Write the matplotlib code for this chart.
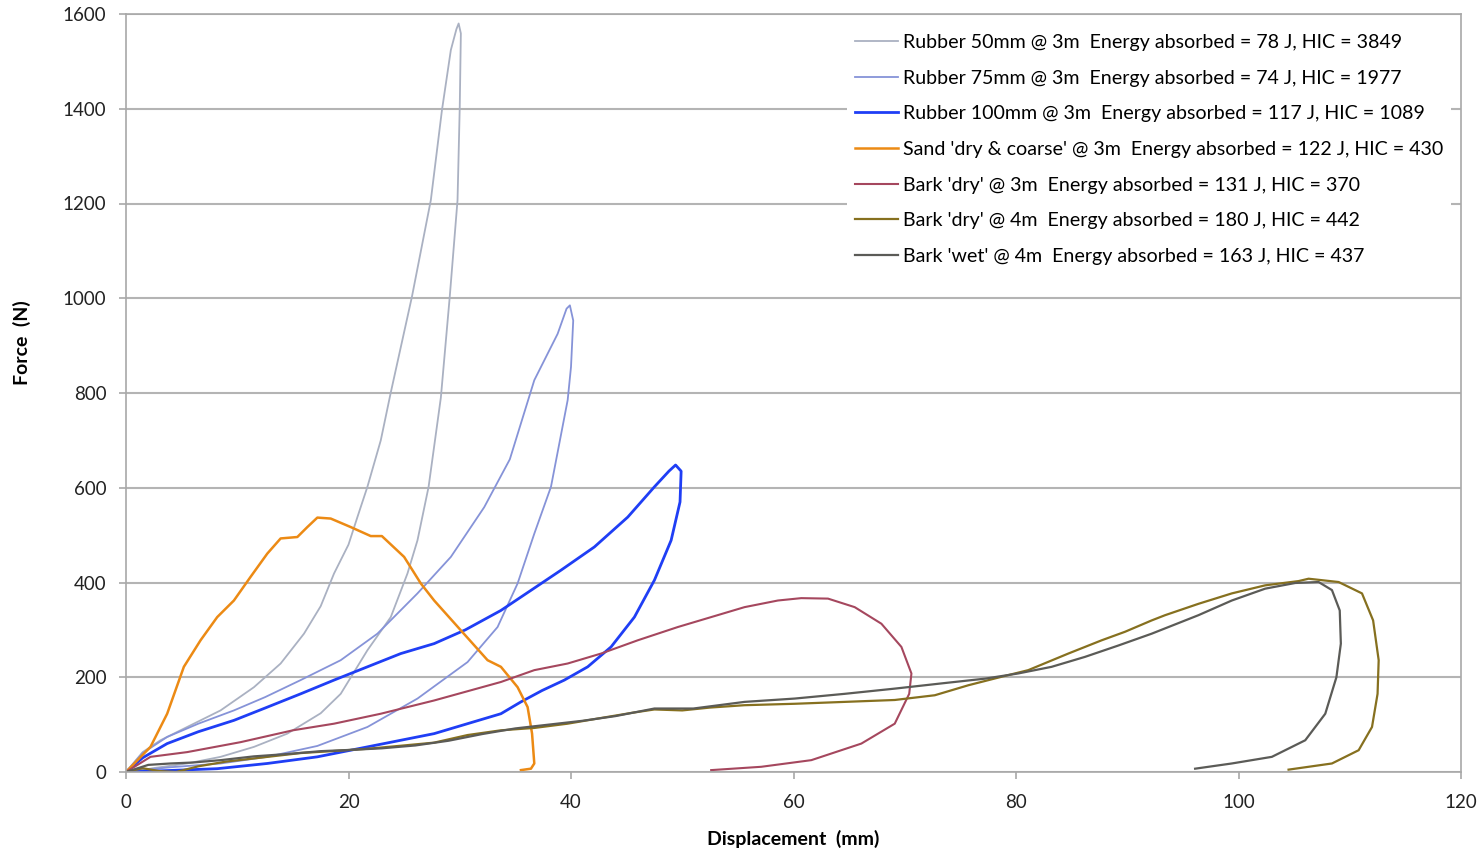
"""
Force vs displacement curves for playground surface drop tests.
Loading/unloading loops for rubber, sand and bark surfaces.
"""

import matplotlib

matplotlib.use("Agg")
import matplotlib.pyplot as plt

# Rubber 50mm @ 3m
r50_x = [0, 1.5, 3.1, 5.5, 8.5, 11.5, 13.9, 16.0, 17.5, 18.7, 20.0, 20.8, 21.7, 22.9,
         23.8, 25.7, 27.4, 28.4, 29.2, 29.7, 29.9, 30.1, 30.0, 29.8, 29.1, 28.3, 27.2, 26.2,
         25.3, 23.8, 21.7, 19.3, 17.5, 14.5, 11.5, 8.5, 5.5, 2.4, 0.5]
r50_f = [0, 42, 67, 95, 130, 179, 229, 292, 350, 419, 480, 538, 602, 700,
         801, 1003, 1207, 1397, 1524, 1568, 1580, 1559, 1404, 1207, 1003, 790, 602, 489,
         419, 327, 257, 165, 124, 81, 53, 32, 18, 8, 0]

# Rubber 75mm @ 3m
r75_x = [0, 1.5, 3.7, 6.5, 9.7, 12.5, 15.7, 19.3, 22.6, 26.2, 29.2, 32.2, 34.5, 36.7,
         38.8, 39.6, 39.9, 40.2, 40.0, 39.7, 38.2, 36.7, 35.2, 33.4, 30.7, 26.2, 21.7, 17.2,
         12.7, 8.5, 4.0, 0.5]
r75_f = [0, 40, 74, 102, 130, 158, 194, 236, 292, 377, 454, 559, 660, 827,
         925, 978, 985, 953, 855, 785, 602, 503, 398, 306, 232, 155, 95, 55,
         32, 18, 10, 2]

# Rubber 100mm @ 3m
r100_x = [0, 1.5, 3.7, 6.5, 9.7, 12.5, 15.7, 18.7, 21.7, 24.7, 27.7, 30.5, 33.7, 36.5,
          39.1, 42.1, 45.1, 47.5, 48.8, 49.4, 49.9, 49.8, 49.0, 47.5, 45.7, 43.6, 41.5, 39.4,
          37.4, 35.5, 33.7, 27.7, 21.7, 17.2, 12.7, 8.2, 3.7, 0]
r100_f = [0, 30, 60, 85, 109, 135, 165, 194, 222, 250, 271, 300, 341, 385,
          426, 475, 538, 602, 635, 648, 635, 570, 489, 405, 327, 264, 222, 194,
          172, 148, 123, 81, 53, 32, 18, 7, 3, 0]

# Sand 'dry & coarse' @ 3m
sand_x = [0, 2.2, 3.7, 5.2, 6.7, 8.2, 9.7, 11.2, 12.7, 13.9, 15.4, 16.3, 17.2, 18.4,
          20.2, 22.0, 23.0, 25.0, 26.5, 27.7, 30.1, 32.5, 33.7, 35.2, 36.1, 36.5, 36.7,
          36.4, 35.5]
sand_f = [0, 53, 123, 222, 278, 327, 362, 412, 461, 493, 496, 517, 537, 535,
          517, 498, 498, 454, 398, 362, 299, 236, 222, 179, 137, 81, 18,
          7, 4]

# Bark 'dry' @ 3m
bark3_x = [0, 2.2, 5.5, 10.3, 15.0, 18.7, 22.9, 27.7, 33.7, 36.7, 39.7, 42.7, 46.0, 49.6,
           52.6, 55.6, 58.6, 60.7, 63.1, 65.5, 67.9, 69.7, 70.6, 70.4, 69.1, 66.1, 61.6,
           57.1, 52.6]
bark3_f = [0, 32, 42, 63, 88, 102, 123, 151, 190, 215, 229, 250, 278, 306,
           327, 348, 362, 367, 366, 348, 313, 264, 208, 165, 102, 60, 25,
           11, 4]

# Bark 'dry' @ 4m
dry4_x = [0, 1.5, 3.0, 4.5, 6.5, 9.0, 12.0, 15.7, 18.5, 21.7, 24.5, 27.7, 30.7, 33.7,
          36.7, 39.7, 42.7, 45.5, 47.5, 50.0, 52.5, 55.6, 60.1, 64.6, 69.1, 72.7, 75.7,
          78.7, 81.1, 84.7, 87.7, 89.8, 92.2, 93.4, 96.4, 99.4, 102.4, 105.4, 106.3, 109.0,
          111.1, 112.1, 112.6, 112.5, 112.0, 110.8, 108.4, 104.5]
dry4_f = [0, 8, 2, 0, 12, 22, 30, 40, 44, 49, 55, 62, 78, 88,
          93, 102, 114, 125, 132, 130, 136, 141, 144, 148, 152, 162, 183,
          201, 215, 250, 278, 296, 320, 331, 355, 377, 394, 403, 408, 401,
          377, 320, 236, 165, 95, 46, 18, 5]

# Bark 'wet' @ 4m
wet4_x = [0, 2.0, 4.0, 6.0, 8.5, 11.5, 14.5, 17.5, 20.5, 23.0, 26.0, 29.0, 32.0, 35.0,
          38.0, 41.0, 44.0, 47.5, 51.0, 55.6, 60.1, 64.6, 69.1, 73.3, 77.2, 80.2, 83.2,
          86.2, 89.2, 92.2, 96.4, 99.4, 102.4, 105.1, 107.2, 108.4, 109.1, 109.2, 108.8,
          107.8, 106.0, 103.0, 99.4, 96.1]
wet4_f = [0, 15, 18, 20, 25, 33, 38, 44, 47, 50, 56, 66, 80, 92,
          100, 108, 118, 134, 134, 148, 155, 165, 176, 187, 197, 208, 222,
          243, 267, 292, 331, 362, 387, 399, 401, 384, 341, 271, 200,
          123, 67, 32, 18, 7]

labels = [
    "Rubber 50mm @ 3m  Energy absorbed = 78 J, HIC = 3849",
    "Rubber 75mm @ 3m  Energy absorbed = 74 J, HIC = 1977",
    "Rubber 100mm @ 3m  Energy absorbed = 117 J, HIC = 1089",
    "Sand 'dry & coarse' @ 3m  Energy absorbed = 122 J, HIC = 430",
    "Bark 'dry' @ 3m  Energy absorbed = 131 J, HIC = 370",
    "Bark 'dry' @ 4m  Energy absorbed = 180 J, HIC = 442",
    "Bark 'wet' @ 4m  Energy absorbed = 163 J, HIC = 437",
]

series = [
    (r50_x, r50_f, "#aab1c2", 1.3),
    (r75_x, r75_f, "#8693d8", 1.3),
    (r100_x, r100_f, "#1f3ef5", 2.0),
    (sand_x, sand_f, "#ec8a14", 1.8),
    (bark3_x, bark3_f, "#a5475e", 1.5),
    (dry4_x, dry4_f, "#86701f", 1.6),
    (wet4_x, wet4_f, "#5b5b57", 1.6),
]

plt.rcParams["font.family"] = ["Lato", "DejaVu Sans"]

fig = plt.figure(figsize=(14.84, 8.5), dpi=100)
ax = fig.add_axes([126 / 1484, 78 / 850, 1335 / 1484, 758 / 850])

for (xs, fs, color, lw), label in zip(series, labels):
    ax.plot(xs, fs, color=color, lw=lw, label=label, solid_joinstyle="round")

ax.set_xlim(0, 120)
ax.set_ylim(0, 1600)
ax.set_xticks(range(0, 121, 20))
ax.set_yticks(range(0, 1601, 200))
ax.grid(axis="y", color="#b4b4b4", lw=1.5)
ax.set_axisbelow(True)
for sp in ax.spines.values():
    sp.set_color("#a8a8a8")
    sp.set_linewidth(1.2)
ax.tick_params(colors="#a8a8a8", labelcolor="#222222", labelsize=13.5, length=5, width=1.2)
ax.tick_params(axis="x", pad=11)
ax.tick_params(axis="y", pad=9)

ax.set_xlabel("Displacement  (mm)", fontsize=14, fontweight="bold")
ax.set_ylabel("Force  (N)", fontsize=14, fontweight="bold")
ax.xaxis.set_label_coords(0.5, -0.076)
ax.yaxis.set_label_coords(-0.071, 0.567)

leg = ax.legend(loc="upper left", bbox_to_anchor=(847 / 1484, 1 - 26 / 850),
                bbox_transform=fig.transFigure, fontsize=14.15, frameon=True,
                handlelength=2.2, handletextpad=0.25, labelspacing=0.95,
                borderpad=0.4, borderaxespad=0)
leg.get_frame().set_facecolor("white")
leg.get_frame().set_edgecolor("none")
leg.get_frame().set_alpha(1)

fig.savefig("out.png", dpi=100, facecolor="white")
